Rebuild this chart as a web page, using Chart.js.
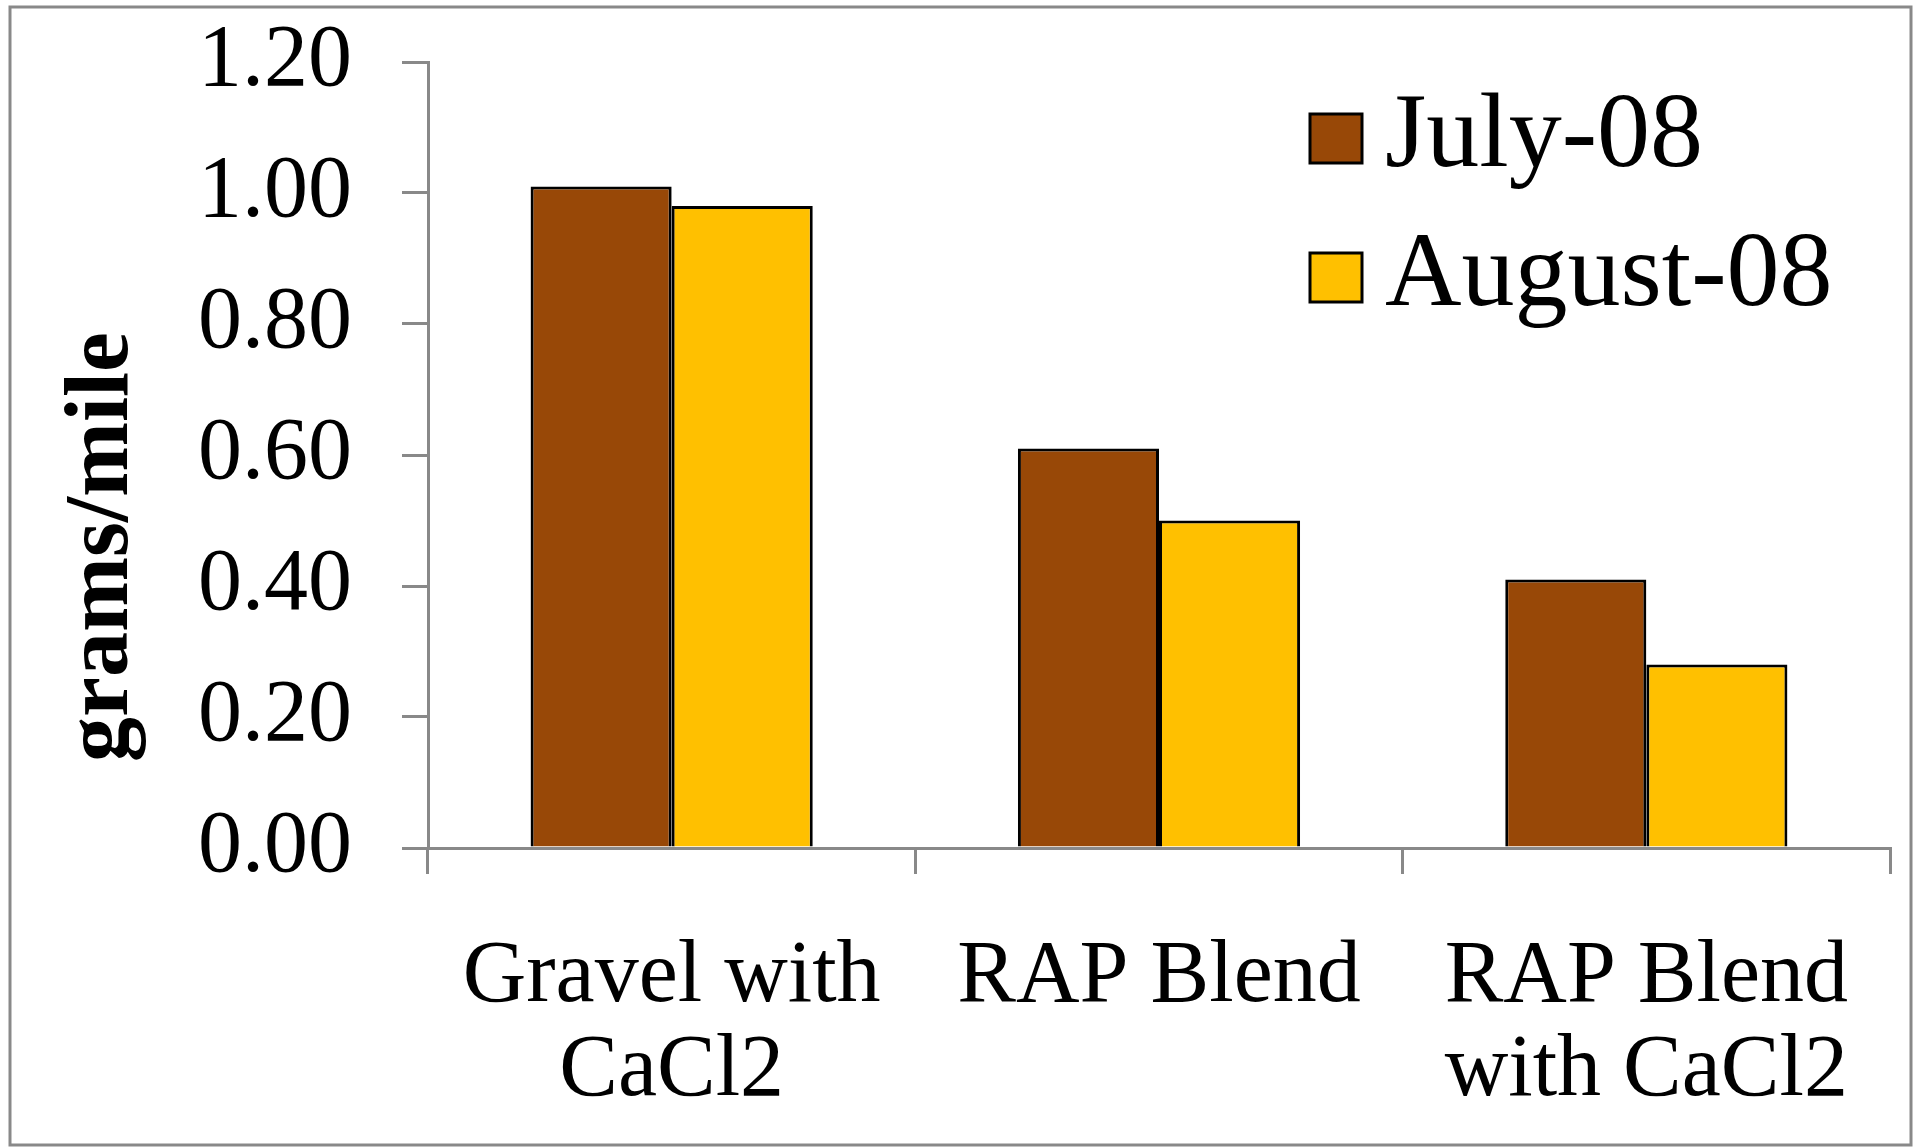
<!DOCTYPE html>
<html>
<head>
<meta charset="utf-8">
<script src="https://cdn.jsdelivr.net/npm/chart.js@4.4.1/dist/chart.umd.min.js"></script>
<style>
  html, body { margin: 0; padding: 0; background: #ffffff; }
  canvas { display: block; }
</style>
</head>
<body>
<canvas id="myChart" width="1923" height="1147"></canvas>
<script>
// categories and series
const categories = [["Gravel with", "CaCl2"], ["RAP Blend"], ["RAP Blend", "with CaCl2"]];
const seriesNames = ["July-08", "August-08"];
const july08 = [1.01, 0.61, 0.41];
const august08 = [0.98, 0.50, 0.28];
const yTicks = [0, 0.2, 0.4, 0.6, 0.8, 1.0, 1.2];
const yTitle = "grams/mile";

const seriesColors = ["#984807", "#FFC000"];
const axisGray = "#898989";
const serif = "'Liberation Serif', 'Times New Roman', serif";

// frame, y title and legend drawn on top of the chart
const extrasPlugin = {
    id: 'extras',
    beforeDraw(chart) {
        const ctx = chart.ctx;
        ctx.save();
        ctx.fillStyle = '#ffffff';
        ctx.fillRect(0, 0, chart.width, chart.height);
        ctx.restore();
    },
    afterDraw(chart) {
        const ctx = chart.ctx;
        ctx.save();
        // outer frame
        ctx.strokeStyle = axisGray;
        ctx.lineWidth = 3;
        ctx.strokeRect(10, 7, 1901, 1138);

        // y axis title
        ctx.translate(104, 547);
        ctx.rotate(-Math.PI / 2);
        ctx.font = "bold 90px " + serif;
        ctx.fillStyle = '#000';
        ctx.textAlign = 'center';
        ctx.textBaseline = 'middle';
        ctx.fillText(yTitle, 0, 0);
        ctx.restore();

        // legend
        ctx.save();
        chart.data.datasets.forEach((ds, i) => {
            const cy = 138 + i * 139;
            ctx.fillStyle = ds.backgroundColor;
            ctx.fillRect(1310, cy - 24, 52, 49);
            ctx.strokeStyle = '#000';
            ctx.lineWidth = 3;
            ctx.strokeRect(1310, cy - 24, 52, 49);
            ctx.fillStyle = '#000';
            ctx.font = "106px " + serif;
            ctx.textAlign = 'left';
            ctx.textBaseline = 'middle';
            ctx.fillText(ds.label, 1385, cy);
        });
        ctx.restore();
    }
};

const ctx = document.getElementById('myChart').getContext('2d');
const myChart = new Chart(ctx, {
    type: 'bar',
    data: {
        labels: categories,
        datasets: [
            {
                label: seriesNames[0],
                data: july08,
                backgroundColor: seriesColors[0],
                borderColor: '#000',
                borderWidth: 3,
                borderSkipped: 'start'
            },
            {
                label: seriesNames[1],
                data: august08,
                backgroundColor: seriesColors[1],
                borderColor: '#000',
                borderWidth: 3,
                borderSkipped: 'start'
            }
        ]
    },
    options: {
        responsive: false,
        devicePixelRatio: 1,
        animation: false,
        layout: { padding: { left: 0, right: 33, top: 62, bottom: 0 } },
        datasets: {
            bar: { categoryPercentage: 0.579, barPercentage: 1.0 }
        },
        plugins: {
            legend: { display: false },
            tooltip: { enabled: false }
        },
        scales: {
            x: {
                z: 1,
                grid: {
                    offset: true,
                    drawOnChartArea: false,
                    drawTicks: true,
                    tickLength: 26,
                    color: axisGray,
                    lineWidth: 3
                },
                border: { color: axisGray, width: 3 },
                ticks: {
                    color: '#000',
                    padding: 57,
                    maxRotation: 0,
                    autoSkip: false,
                    font: { family: serif, size: 88, lineHeight: 1.07 }
                },
                afterFit(scale) { scale.height = 299; }
            },
            y: {
                min: 0,
                max: 1.2,
                afterBuildTicks(scale) {
                    scale.ticks = yTicks.map(v => ({ value: v }));
                },
                grid: {
                    drawOnChartArea: false,
                    drawTicks: true,
                    tickLength: 26,
                    color: axisGray,
                    lineWidth: 3
                },
                border: { color: axisGray, width: 3 },
                ticks: {
                    color: '#000',
                    padding: 50,
                    font: { family: serif, size: 88 },
                    callback: (v) => Number(v).toFixed(2)
                },
                afterFit(scale) {
                    scale.width = 428;
                    // top of the axis sits right on the 1.20 tick
                    scale.paddingTop = 0;
                    scale.paddingBottom = 0;
                }
            }
        }
    },
    plugins: [extrasPlugin]
});
</script>
</body>
</html>
